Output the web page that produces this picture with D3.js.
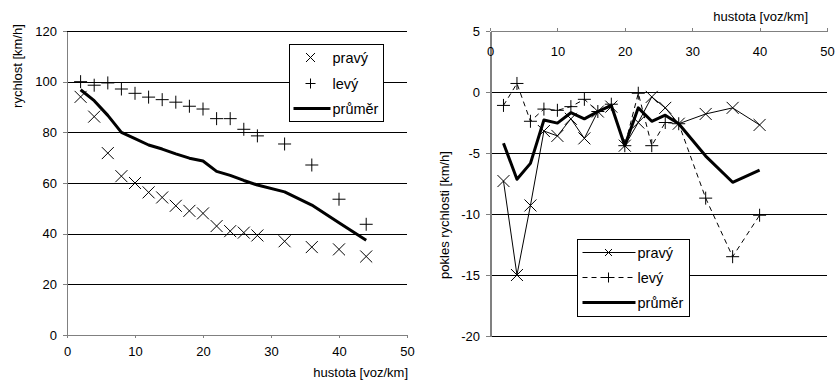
<!DOCTYPE html>
<html>
<head>
<meta charset="utf-8">
<script src="https://cdn.jsdelivr.net/npm/d3@7"></script>
<style>
  body { margin: 0; background: #fff; }
  svg { font-family: "Liberation Sans", Arial, sans-serif; font-size: 13px; }
  .grid { stroke: #000; stroke-width: 1; shape-rendering: crispEdges; }
  .axis path, .axis line { stroke: #808080; shape-rendering: crispEdges; }
  .axis text { fill: #000; font-size: 13px; font-family: "Liberation Sans", Arial, sans-serif; }
  .legend text { font-size: 14.5px; }
</style>
</head>
<body>
<div id="chart"></div>
<script>
// hustota [voz/km]
const density = [2, 4, 6, 8, 10, 12, 14, 16, 18, 20, 22, 24, 26, 28, 32, 36, 40, 44];

// rychlost [km/h]
const speedRight = [94, 86.2, 71.8, 62.7, 60, 56.3, 54.3, 51, 49, 48, 43, 41, 40.4, 39.3, 37, 34.7, 33.8, 31];
const speedLeft = [100, 98.6, 99.5, 97.1, 95.4, 93.9, 92.9, 91.9, 90.3, 89.2, 85.4, 85.4, 81.2, 78.6, 75.4, 67.1, 53.6, 43.7];
const speedMean = [96.8, 92.5, 86.7, 80, 77.5, 75, 73.4, 71.5, 69.8, 68.7, 64.6, 63, 61, 59.2, 56.5, 51.3, 44.3, 37.4];

// pokles rychlosti [km/h]
const dropDensity = [2, 4, 6, 8, 10, 12, 14, 16, 18, 20, 22, 24, 26, 28, 32, 36, 40];
const dropRight = [-7.3, -15, -9.3, -3.2, -3.6, -2.2, -3.8, -1.6, -1.2, -4.4, -2.5, -0.4, -1.3, -2.6, -1.8, -1.3, -2.7];
const dropLeft = [-1.1, 0.7, -2.4, -1.4, -1.5, -1.2, -0.6, -1.6, -1.0, -4.4, -0.1, -4.4, -2.5, -2.6, -8.7, -13.5, -10.1];
const dropMean = [-4.2, -7.15, -5.85, -2.3, -2.55, -1.7, -2.2, -1.6, -1.1, -4.4, -1.3, -2.4, -1.9, -2.6, -5.25, -7.4, -6.4];

const xTicks = [0, 10, 20, 30, 40, 50];
const speedTicks = [0, 20, 40, 60, 80, 100, 120];
const dropTicks = [-20, -15, -10, -5, 0, 5];

const W = 837, H = 385;
const svg = d3.select("#chart").append("svg").attr("width", W).attr("height", H);

// popisky os s obyčejným spojovníkem místo minus
const plainFormat = d => String(d);

// značky bodů
const crossX = s => `M${-s},${-s}L${s},${s}M${-s},${s}L${s},${-s}`;
const crossPlus = s => `M${-s},0L${s},0M0,${-s}L0,${s}`;

function drawMarkers(g, xs, ys, x, y, shape, size) {
    g.append("g").selectAll("path")
        .data(xs.map((d, i) => [d, ys[i]]))
        .join("path")
        .attr("transform", d => `translate(${x(d[0])},${y(d[1])})`)
        .attr("d", shape(size))
        .attr("fill", "none")
        .attr("stroke", "#000")
        .attr("stroke-width", 1);
}

// ---------- levý graf: rychlost ----------
{
    const x = d3.scaleLinear().domain([0, 50]).range([67, 407]);
    const y = d3.scaleLinear().domain([0, 120]).range([335, 31]);
    const g = svg.append("g");

    g.selectAll(".grid").data(speedTicks.filter(t => t > 0)).join("line")
        .attr("class", "grid")
        .attr("x1", x(0)).attr("x2", x(50))
        .attr("y1", d => Math.round(y(d)) + 0.5).attr("y2", d => Math.round(y(d)) + 0.5);

    g.append("g").attr("class", "axis")
        .attr("transform", `translate(${x(0)},0)`)
        .call(d3.axisLeft(y).tickValues(speedTicks).tickFormat(plainFormat).tickSize(4).tickPadding(6).tickSizeOuter(0));

    g.append("g").attr("class", "axis")
        .attr("transform", `translate(0,${y(0)})`)
        .call(d3.axisBottom(x).tickValues(xTicks).tickFormat(plainFormat).tickSize(3).tickPadding(9).tickSizeOuter(0));

    const line = d3.line().x((d, i) => x(density[i])).y(d => y(d));
    g.append("path").datum(speedMean)
        .attr("d", line).attr("fill", "none")
        .attr("stroke", "#000").attr("stroke-width", 3).attr("stroke-linejoin", "round");

    drawMarkers(g, density, speedRight, x, y, crossX, 6);
    drawMarkers(g, density, speedLeft, x, y, crossPlus, 6.5);

    g.append("text").attr("x", 408).attr("y", 377).attr("text-anchor", "end").text("hustota [voz/km]");
    g.append("text").attr("transform", "translate(22,66) rotate(-90)").attr("text-anchor", "middle").text("rychlost [km/h]");

    // legenda
    const lg = g.append("g").attr("class", "legend").attr("transform", "translate(289.5,44.5)");
    lg.append("rect").attr("width", 94).attr("height", 77).attr("fill", "#fff").attr("stroke", "#000");
    const names = ["pravý", "levý", "průměr"];
    const rowY = [13, 39, 64];
    lg.append("path").attr("transform", `translate(21,${rowY[0]})`).attr("d", crossX(4.5)).attr("stroke", "#000").attr("fill", "none");
    lg.append("path").attr("transform", `translate(21,${rowY[1]})`).attr("d", crossPlus(5)).attr("stroke", "#000").attr("fill", "none");
    lg.append("line").attr("x1", 4).attr("x2", 41).attr("y1", rowY[2]).attr("y2", rowY[2]).attr("stroke", "#000").attr("stroke-width", 3);
    lg.selectAll("text").data(names).join("text")
        .attr("x", 43).attr("y", (d, i) => rowY[i]).attr("dy", "0.35em").text(d => d);
}

// ---------- pravý graf: pokles rychlosti ----------
{
    const x = d3.scaleLinear().domain([0, 50]).range([490, 827]);
    const y = d3.scaleLinear().domain([-20, 5]).range([336, 31]);
    const g = svg.append("g");

    g.selectAll(".grid").data(dropTicks.filter(t => t < 5)).join("line")
        .attr("class", "grid")
        .attr("x1", x(0)).attr("x2", x(50))
        .attr("y1", d => Math.round(y(d)) + 0.5).attr("y2", d => Math.round(y(d)) + 0.5);

    const yAxis = g.append("g").attr("class", "axis")
        .attr("transform", `translate(${x(0)},0)`)
        .call(d3.axisLeft(y).tickValues(dropTicks).tickFormat(plainFormat).tickSize(4).tickPadding(6).tickSizeOuter(0));
    yAxis.select(".domain").attr("stroke-width", 2);

    g.append("g").attr("class", "axis")
        .attr("transform", `translate(0,${y(5)})`)
        .call(d3.axisBottom(x).tickValues(xTicks).tickFormat(plainFormat).tickSize(-3).tickPadding(16).tickSizeOuter(0));

    const line = d3.line().x((d, i) => x(dropDensity[i])).y(d => y(d));
    g.append("path").datum(dropRight).attr("d", line)
        .attr("fill", "none").attr("stroke", "#000").attr("stroke-width", 1);
    g.append("path").datum(dropLeft).attr("d", line)
        .attr("fill", "none").attr("stroke", "#000").attr("stroke-width", 1).attr("stroke-dasharray", "5,4");
    drawMarkers(g, dropDensity, dropRight, x, y, crossX, 6);
    drawMarkers(g, dropDensity, dropLeft, x, y, crossPlus, 6.5);
    g.append("path").datum(dropMean).attr("d", line)
        .attr("fill", "none").attr("stroke", "#000").attr("stroke-width", 3).attr("stroke-linejoin", "round");

    g.append("text").attr("x", 808).attr("y", 21).attr("text-anchor", "end").text("hustota [voz/km]");
    g.append("text").attr("transform", "translate(449,215) rotate(-90)").attr("text-anchor", "middle").text("pokles rychlosti [km/h]");

    // legenda
    const lg = g.append("g").attr("class", "legend").attr("transform", "translate(577.5,239.5)");
    lg.append("rect").attr("width", 112).attr("height", 77).attr("fill", "#fff").attr("stroke", "#000");
    const names = ["pravý", "levý", "průměr"];
    const rowY = [13, 38, 63];
    lg.append("line").attr("x1", 5).attr("x2", 58).attr("y1", rowY[0]).attr("y2", rowY[0]).attr("stroke", "#000");
    lg.append("path").attr("transform", `translate(31,${rowY[0]})`).attr("d", crossX(3.5)).attr("stroke", "#000").attr("fill", "none");
    lg.append("line").attr("x1", 5).attr("x2", 58).attr("y1", rowY[1]).attr("y2", rowY[1]).attr("stroke", "#000").attr("stroke-dasharray", "5,4");
    lg.append("path").attr("transform", `translate(31,${rowY[1]})`).attr("d", crossPlus(5)).attr("stroke", "#000").attr("fill", "none");
    lg.append("line").attr("x1", 5).attr("x2", 58).attr("y1", rowY[2]).attr("y2", rowY[2]).attr("stroke", "#000").attr("stroke-width", 3);
    lg.selectAll("text").data(names).join("text")
        .attr("x", 60).attr("y", (d, i) => rowY[i]).attr("dy", "0.35em").text(d => d);
}
</script>
</body>
</html>
